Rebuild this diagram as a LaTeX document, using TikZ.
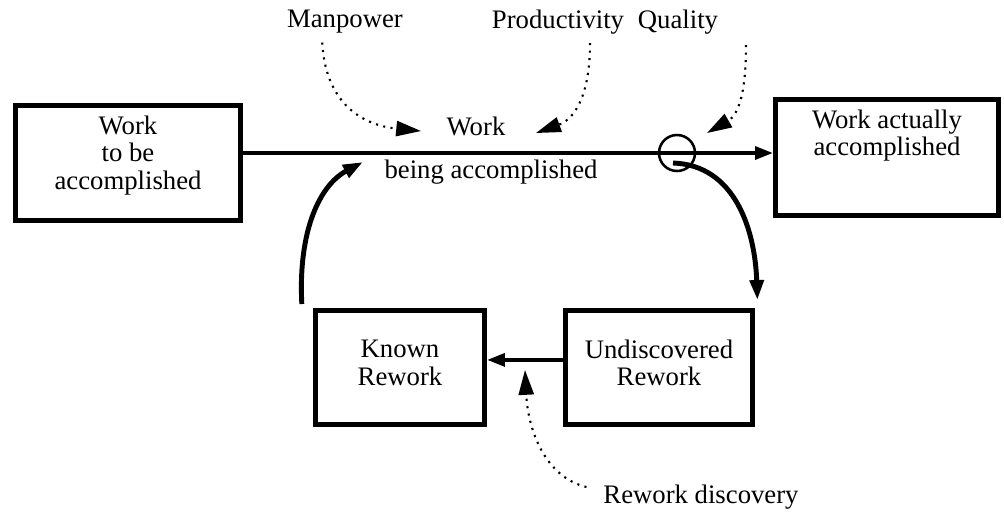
\documentclass[tikz,border=0pt]{standalone}
\usepackage{fontspec}
\setmainfont{Liberation Serif}
\usetikzlibrary{arrows.meta}

\begin{document}
\begin{tikzpicture}[x=0.025cm, y=-0.025cm,
    every node/.style={font=\fontsize{19}{19.5}\selectfont, align=center},
    stock/.style={draw, line width=3.5pt, inner sep=0pt},
    flow/.style={line width=2.8pt, -{Triangle[length=0.45cm, width=0.32cm]}},
    loop/.style={line width=3.5pt, -{Triangle[length=0.5cm, width=0.34cm]}},
    info/.style={line width=1.5pt, dash pattern=on 1.5pt off 3.8pt, -{Triangle[length=0.62cm, width=0.38cm]}}]
  \useasboundingbox (0,0) rectangle (1004,522);

  % levels
  \node[stock, minimum width=5.625cm, minimum height=2.875cm, text depth=15pt] (todo) at (128,163) {Work\\to be\\accomplished};
  \node[stock, minimum width=5.575cm, minimum height=2.9cm, text depth=35pt] (done) at (887,157.5) {Work actually\\accomplished};
  \node[stock, minimum width=4.225cm, minimum height=2.85cm, text depth=7pt] (known) at (400,367.5) {Known\\Rework};
  \node[stock, minimum width=4.675cm, minimum height=2.85cm, text depth=7pt] (undisc) at (659,367.5) {Undiscovered\\Rework};

  % rate and its labels
  \node[circle, draw, line width=1.8pt, minimum size=0.9cm, inner sep=0pt] (valve) at (677,153) {};
  \node (work) at (476,126) {Work};
  \node (being) at (491,172) {being accomplished};

  % influences
  \node (manp) at (345,22) {Manpower};
  \node (prod) at (558,22) {Productivity};
  \node (qual) at (678,22) {Quality};
  \node (disc) at (701,497) {Rework discovery};

  % flows
  \draw[flow] (todo.east |- valve) -- (done.west |- valve);
  \draw[flow] ([yshift=0.19cm]undisc.west) -- ([yshift=0.19cm]known.east);
  \draw[loop] ([xshift=-0.28cm, yshift=0.1cm]known.north west) .. controls (298,230) and (320,185) .. (363,162);
  \draw[loop] ([xshift=-0.1cm, yshift=-0.25cm]valve.center) .. controls (735,165) and (755,230) .. ([xshift=0.06cm, yshift=0.2cm]undisc.north east);

  % dotted links
  \draw[info] ([xshift=-0.57cm, yshift=-0.1cm]manp.south) .. controls (326,110) and (370,126) .. (421,131);
  \draw[info] ([xshift=0.8cm, yshift=-0.1cm]prod.south) .. controls (590,100) and (572,120) .. (536,133);
  \draw[info] ([xshift=1.7cm, yshift=-0.15cm]qual.south) .. controls (746,95) and (738,115) .. (707,133);
  \draw[info] ([xshift=-0.3cm, yshift=0.25cm]disc.west) .. controls (545,477) and (528,430) .. (525,370);
\end{tikzpicture}
\end{document}
